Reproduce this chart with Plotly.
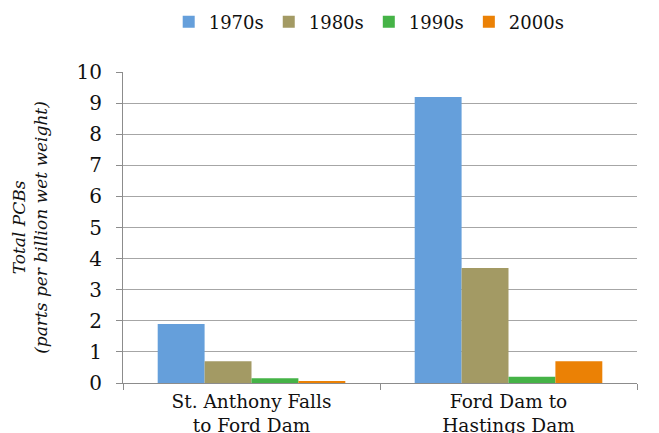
import plotly.graph_objects as go

categories = ["St. Anthony Falls<br>to Ford Dam", "Ford Dam to<br>Hastings Dam"]
series_names = ["1970s", "1980s", "1990s", "2000s"]
values_1970s = [1.9, 9.2]
values_1980s = [0.7, 3.7]
values_1990s = [0.15, 0.2]
values_2000s = [0.05, 0.7]
colors = ["#659FDB", "#A39A64", "#45B347", "#EB8105"]
y_ticks = list(range(0, 11))

fig = go.Figure()
for name, vals, c in zip(series_names, [values_1970s, values_1980s, values_1990s, values_2000s], colors):
    fig.add_trace(go.Bar(name=name, x=categories, y=vals, marker=dict(color=c, line=dict(width=0))))

font_family = "DejaVu Serif"
fig.update_layout(
    width=651, height=425,
    barmode="group", bargap=0.27, bargroupgap=0,
    plot_bgcolor="white", paper_bgcolor="white",
    margin=dict(l=115, r=22, t=64, b=50, autoexpand=False),
    font=dict(family=font_family, color="#111111", size=17),
    legend=dict(orientation="h", x=0.479, xanchor="center", y=1.161, yref="paper", yanchor="middle",
                font=dict(size=18, family=font_family), itemwidth=30, traceorder="normal"),
    xaxis=dict(showline=True, linecolor="#8c8c8c", linewidth=1, ticks="outside", tickson="boundaries",
               ticklen=6, tickcolor="#8c8c8c", automargin=False, ticklabelstandoff=2,
               tickfont=dict(size=18.5, family=font_family)),
    yaxis=dict(range=[0, 10], tickvals=y_ticks, showline=True, linecolor="#8c8c8c", linewidth=1,
               ticks="outside", ticklen=6, tickcolor="#8c8c8c", showgrid=True, gridcolor="#a6a6a6",
               gridwidth=1, zeroline=False, automargin=False, ticklabelstandoff=10,
               tickfont=dict(size=20, family=font_family),
               title=dict(text="<i>Total PCBs<br>(parts per billion wet weight)</i>", font=dict(size=17, family=font_family), standoff=24)),
)
fig.write_html("out.html")
